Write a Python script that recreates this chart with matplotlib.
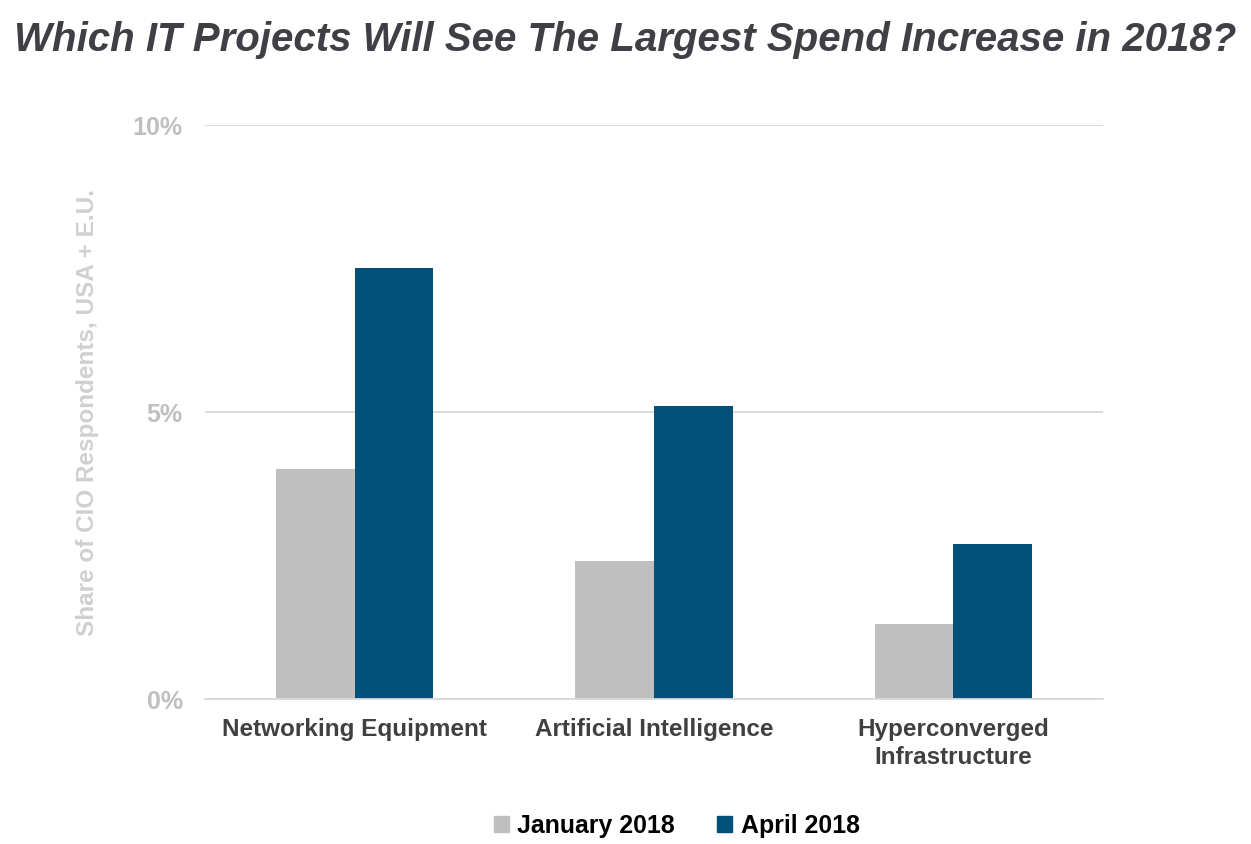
import numpy as np
import matplotlib.pyplot as plt
from matplotlib.patches import Patch

plt.rcParams['font.family'] = ['Liberation Sans', 'DejaVu Sans']

# data
categories = ['Networking Equipment', 'Artificial Intelligence', 'Hyperconverged\nInfrastructure']
jan_2018 = [4.0, 2.4, 1.3]
apr_2018 = [7.5, 5.1, 2.7]
series_names = ['January 2018', 'April 2018']
yticks = [0, 5, 10]
ytick_labels = ['0%', '5%', '10%']

gray = '#BFBFBF'
blue = '#00507A'

fig = plt.figure(figsize=(12.51, 8.45), dpi=100)
ax = fig.add_axes([0.1639, 0.1716, 0.7178, 0.6793])

x = np.arange(len(categories))
w = 0.263
ax.bar(x - w / 2, jan_2018, width=w, color=gray, zorder=3)
ax.bar(x + w / 2, apr_2018, width=w, color=blue, zorder=3)

ax.set_xlim(-0.5, 2.5)
ax.set_ylim(0, 10)
ax.set_yticks(yticks)
ax.set_yticklabels(ytick_labels, fontsize=18, fontweight='bold', color=gray)
ax.set_xticks(x)
ax.set_xticklabels(categories, fontsize=17.5, fontweight='bold', color='#404040',
                   linespacing=1.27)
ax.tick_params(axis='both', length=0)
ax.tick_params(axis='y', pad=16)
ax.tick_params(axis='x', pad=13)

ax.grid(axis='y', color='#D9D9D9', linewidth=1.3, zorder=0)
for s in ['top', 'right', 'left']:
    ax.spines[s].set_visible(False)
ax.spines['bottom'].set_color('#D9D9D9')
ax.spines['bottom'].set_linewidth(1.3)
ax.spines['bottom'].set_zorder(4)

ax.set_ylabel('Share of CIO Respondents, USA + E.U.', fontsize=17.5, fontweight='bold',
              color='#D0D0D0')
ax.yaxis.set_label_coords(-0.118, 0.5)

fig.suptitle('Which IT Projects Will See The Largest Spend Increase in 2018?',
             x=0.5, y=0.975, fontsize=29, fontweight='bold', style='italic',
             color='#3F4045')

handles = [Patch(color=gray), Patch(color=blue)]
fig.legend(handles, series_names, loc='center', bbox_to_anchor=(0.541, 0.022),
           ncol=2, frameon=False, handlelength=0.6, handleheight=0.6,
           handletextpad=0.35, columnspacing=1.7,
           prop={'weight': 'bold', 'size': 17.9})

fig.savefig('out.png', dpi=100)
